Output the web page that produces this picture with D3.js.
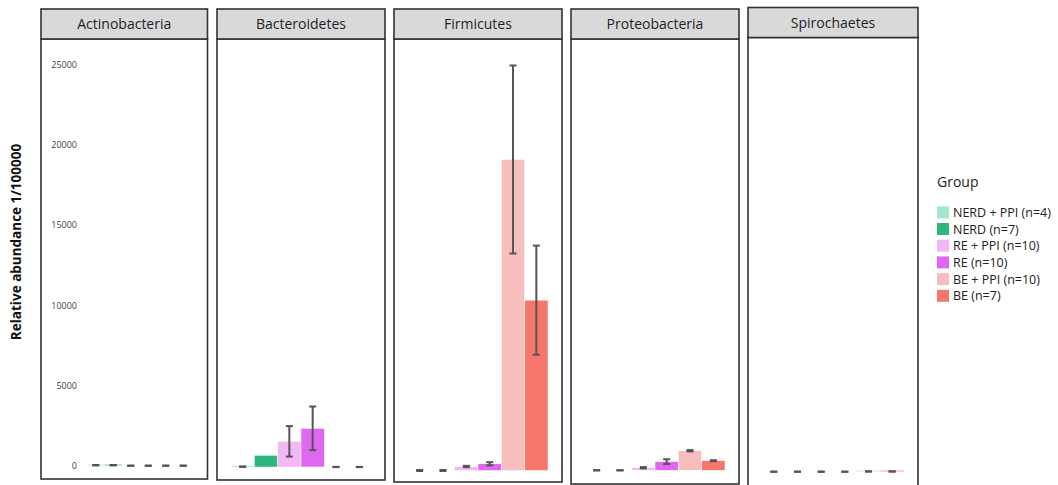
<!DOCTYPE html>
<html>
<head>
<meta charset="utf-8">
<script src="https://cdn.jsdelivr.net/npm/d3@7"></script>
<style>
  html, body { margin: 0; padding: 0; background: #fff; }
  svg { display: block; font-family: "Open Sans", "Noto Sans", sans-serif; }
</style>
</head>
<body>
<div id="chart"></div>
<script>
// Data.
const phyla = ['Actinobacteria', 'Bacteroidetes', 'Firmicutes', 'Proteobacteria', 'Spirochaetes'];
const groups = ['NERD + PPI (n=4)', 'NERD (n=7)', 'RE + PPI (n=10)', 'RE (n=10)', 'BE + PPI (n=10)', 'BE (n=7)'];
const groupColors = ['#a6e5cd', '#2eb67d', '#f2b8f4', '#e068f0', '#f8bdbd', '#f7766c'];

// mean and standard error per phylum, in group order
const actinoMean = [30, 30, 0, 0, 0, 0];
const actinoSe = [15, 15, 8, 8, 8, 8];
const bacteroMean = [20, 730, 1600, 2410, 0, 0];
const bacteroSe = [15, null, 950, 1360, 8, 8];
const firmiMean = [0, 0, 250, 420, 19390, 10620];
const firmiSe = [30, 30, 40, 100, 5860, 3400];
const proteoMean = [0, 0, 160, 540, 1220, 600];
const proteoSe = [10, 10, 40, 150, 40, 30];
const spiroMean = [0, 0, 0, 0, 15, 15];
const spiroSe = [8, 8, 8, 8, 8, 8];

const yTicks = [0, 5000, 10000, 15000, 20000, 25000];

const means = [actinoMean, bacteroMean, firmiMean, proteoMean, spiroMean];
const ses = [actinoSe, bacteroSe, firmiSe, proteoSe, spiroSe];

// Layout: the reference is a pasted-together figure, so panels sit a little unevenly.
const W = 1058, H = 485;
const panels = [
  { x0: 41, x1: 207.5, top: 9, bottom: 479, base: 465.7, bars: [87, 192] },
  { x0: 217, x1: 385, top: 9, bottom: 480, base: 467, bars: null },
  { x0: 394, x1: 562, top: 9, bottom: 482, base: 470.5, bars: null },
  { x0: 571, x1: 739, top: 9, bottom: 484, base: 470.3, bars: null },
  { x0: 748, x1: 918, top: 7.5, bottom: 487, base: 471.7, bars: null },
];
const STRIP = 30;
const PX_PER_UNIT = 80.2 / 5000;
const ink = '#333';
const errInk = '#555';

const svg = d3.select('#chart').append('svg').attr('width', W).attr('height', H);

phyla.forEach((name, i) => {
  const p = panels[i];
  const g = svg.append('g');
  const range = p.bars || [p.x0 + 14, p.x1 - 14];
  const x = d3.scaleBand().domain(groups).range(range).padding(0);
  const y = d3.scaleLinear().domain([0, 25000]).range([p.base, p.base - 25000 * PX_PER_UNIT]);

  // panel body
  g.append('rect').attr('x', p.x0).attr('y', p.top + STRIP).attr('width', p.x1 - p.x0)
    .attr('height', p.bottom - p.top - STRIP).attr('fill', '#fff')
    .attr('stroke', ink).attr('stroke-width', 1.6);

  // strip
  g.append('rect').attr('x', p.x0).attr('y', p.top).attr('width', p.x1 - p.x0).attr('height', STRIP)
    .attr('fill', '#d9d9d9').attr('stroke', ink).attr('stroke-width', 1.6);
  g.append('text').attr('x', (p.x0 + p.x1) / 2).attr('y', p.top + STRIP / 2 + 5)
    .attr('text-anchor', 'middle').attr('font-size', 14).attr('fill', '#1e1e2a').text(name);

  // y axis labels live inside the first panel
  if (i === 0) {
    const ax = g.append('g').attr('transform', 'translate(77,0)')
      .call(d3.axisLeft(y).tickValues(yTicks).tickSize(0).tickPadding(0).tickFormat(d3.format('d')));
    ax.select('.domain').remove();
    ax.selectAll('text').attr('fill', '#444').attr('font-size', 9)
      .attr('font-family', '"Open Sans", "Noto Sans", sans-serif');
  }

  // bars (true zeros draw nothing, as in the reference)
  groups.forEach((grp, k) => {
    const v = means[i][k];
    if (!v) return;
    const h = Math.max(1.4, y(0) - y(v));
    g.append('rect').attr('x', x(grp)).attr('y', y(0) - h)
      .attr('width', x.bandwidth()).attr('height', h)
      .attr('fill', groupColors[k]).attr('stroke', '#fff').attr('stroke-width', 0.5);
  });

  // error bars
  groups.forEach((grp, k) => {
    const se = ses[i][k];
    if (se == null) return;
    const cx = x(grp) + x.bandwidth() / 2;
    const v = means[i][k];
    const y1 = y(v + se), y2 = y(v - se);
    const cap = 3.5;
    g.append('line').attr('x1', cx).attr('x2', cx).attr('y1', y1).attr('y2', y2)
      .attr('stroke', errInk).attr('stroke-width', 2);
    [y1, y2].forEach((yy) => {
      g.append('line').attr('x1', cx - cap).attr('x2', cx + cap).attr('y1', yy).attr('y2', yy)
        .attr('stroke', errInk).attr('stroke-width', 2);
    });
  });
});

// y axis title
svg.append('text').attr('transform', 'translate(21,242) rotate(-90)')
  .attr('text-anchor', 'middle').attr('font-size', 13.5).attr('font-weight', 'bold')
  .attr('fill', '#111').text('Relative abundance 1/100000');

// legend
const lg = svg.append('g').attr('transform', 'translate(937,0)');
lg.append('text').attr('x', 0).attr('y', 187).attr('font-size', 14).attr('fill', '#222').text('Group');
groups.forEach((grp, k) => {
  const cy = 212.3 + k * 16.7;
  lg.append('rect').attr('x', 0).attr('y', cy - 6).attr('width', 12).attr('height', 12)
    .attr('fill', groupColors[k]);
  lg.append('text').attr('x', 16).attr('y', cy + 4.5).attr('font-size', 12.5).attr('fill', '#222').text(grp);
});
</script>
</body>
</html>
